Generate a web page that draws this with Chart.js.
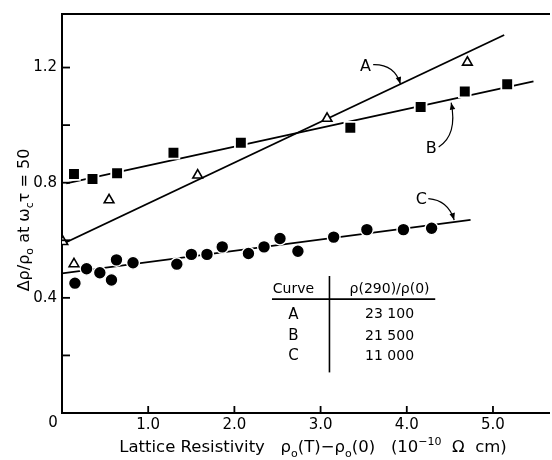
<!DOCTYPE html>
<html><head><meta charset="utf-8">
<script src="https://cdn.jsdelivr.net/npm/chart.js@4.4.1/dist/chart.umd.min.js"></script>
<style>html,body{margin:0;padding:0;background:#fff}#wrap{width:552px;height:460px}</style>
</head><body><div id="wrap"><canvas id="c"></canvas></div>
<script>
// ---- data ----
const curveNames = ['A', 'B', 'C'];
const ratioValues = ['23 100', '21 500', '11 000'];
const xTickValues = [0, 1, 2, 3, 4, 5];
const xTickLabels = ['0', '1.0', '2.0', '3.0', '4.0', '5.0'];
const yTickValues = [0.2, 0.4, 0.6, 0.8, 1.0, 1.2];
const yTickLabels = ['', '0.4', '', '0.8', '', '1.2'];

const curveAx = [0.01, 0.139, 0.546, 1.574, 3.075, 4.703];
const curveAy = [0.595, 0.518, 0.740, 0.826, 1.023, 1.218];
const curveBx = [0.139, 0.354, 0.639, 1.293, 2.075, 3.345, 4.161, 4.673, 5.165];
const curveBy = [0.830, 0.813, 0.833, 0.904, 0.939, 0.991, 1.063, 1.117, 1.142];
const curveCx = [0.150, 0.285, 0.439, 0.574, 0.632, 0.824, 1.332, 1.501, 1.682, 1.859, 2.163, 2.344, 2.529, 2.737, 3.152, 3.537, 3.961, 4.288];
const curveCy = [0.451, 0.501, 0.487, 0.462, 0.532, 0.522, 0.517, 0.551, 0.551, 0.577, 0.554, 0.577, 0.606, 0.562, 0.611, 0.637, 0.637, 0.642];
const fitAx = [0, 5.13];
const fitAy = [0.586, 1.313];
const fitBx = [0.05, 5.47];
const fitBy = [0.798, 1.152];
const fitCx = [0, 4.74];
const fitCy = [0.485, 0.671];

const pts = (xs, ys) => xs.map((x, i) => ({x, y: ys[i]}));
const FONT = '"DejaVu Sans", sans-serif';

function drawRich(ctx, segs, size, x, y, rot) {
  const big = size + 'px ' + FONT, small = Math.round(size * 0.68) + 'px ' + FONT;
  let total = 0;
  const w = segs.map(s => { ctx.font = s.s ? small : big; const m = ctx.measureText(s.t).width; total += m; return m; });
  ctx.save();
  ctx.translate(x, y); ctx.rotate(rot);
  ctx.textAlign = 'left'; ctx.textBaseline = 'alphabetic'; ctx.fillStyle = '#000';
  let cx = -total / 2;
  segs.forEach((s, i) => {
    ctx.font = s.s ? small : big;
    const dy = s.s === -1 ? size * 0.28 : s.s === 1 ? -size * 0.42 : 0;
    ctx.fillText(s.t, cx, dy);
    cx += w[i];
  });
  ctx.restore();
}

function arrow(ctx, p0, c, p1) {
  ctx.beginPath(); ctx.moveTo(p0[0], p0[1]); ctx.quadraticCurveTo(c[0], c[1], p1[0], p1[1]); ctx.stroke();
  const ang = Math.atan2(p1[1] - c[1], p1[0] - c[0]);
  const L = 7, H = 2.8;
  ctx.beginPath();
  ctx.moveTo(p1[0], p1[1]);
  ctx.lineTo(p1[0] - L * Math.cos(ang) + H * Math.sin(ang), p1[1] - L * Math.sin(ang) - H * Math.cos(ang));
  ctx.lineTo(p1[0] - L * Math.cos(ang) - H * Math.sin(ang), p1[1] - L * Math.sin(ang) + H * Math.cos(ang));
  ctx.closePath(); ctx.fill();
}

const deco = {
  id: 'deco',
  afterDraw(chart) {
    const ctx = chart.ctx, xs = chart.scales.x, ys = chart.scales.y, a = chart.chartArea;
    const X = v => xs.getPixelForValue(v), Y = v => ys.getPixelForValue(v);
    ctx.save();
    ctx.strokeStyle = '#000'; ctx.fillStyle = '#000';
    // top frame line
    ctx.lineWidth = 2;
    ctx.beginPath(); ctx.moveTo(a.left - 1, a.top); ctx.lineTo(a.right + 1, a.top); ctx.stroke();
    // inward tick marks
    ctx.lineWidth = 1.8;
    xTickValues.forEach(v => { if (v === 0) return; ctx.beginPath(); ctx.moveTo(X(v), a.bottom); ctx.lineTo(X(v), a.bottom - 7); ctx.stroke(); });
    yTickValues.forEach(v => { ctx.beginPath(); ctx.moveTo(a.left, Y(v)); ctx.lineTo(a.left + 8, Y(v)); ctx.stroke(); });
    // '0' label at the corner
    ctx.font = '15px ' + FONT; ctx.textAlign = 'center'; ctx.textBaseline = 'middle';
    ctx.fillText(xTickLabels[0], X(0) - 9, a.bottom + 10);

    // curve labels with arrows
    ctx.font = '16px ' + FONT; ctx.textAlign = 'center'; ctx.textBaseline = 'middle';
    ctx.lineWidth = 1.2;
    const spots = [
      {x: 3.52, y: 1.203, a: [[3.61, 1.210], [3.857, 1.212], [3.926, 1.143]]},
      {x: 4.284, y: 0.917, a: [[4.37, 0.924], [4.59, 0.966], [4.515, 1.078]]},
      {x: 4.169, y: 0.741, a: [[4.25, 0.745], [4.48, 0.740], [4.55, 0.670]]}
    ];
    spots.forEach((s, i) => {
      ctx.fillText(curveNames[i], X(s.x), Y(s.y));
      arrow(ctx, [X(s.a[0][0]), Y(s.a[0][1])], [X(s.a[1][0]), Y(s.a[1][1])], [X(s.a[2][0]), Y(s.a[2][1])]);
    });

    // table
    ctx.lineWidth = 1.6;
    ctx.beginPath(); ctx.moveTo(X(2.436), Y(0.3955)); ctx.lineTo(X(4.33), Y(0.3955)); ctx.stroke();
    ctx.beginPath(); ctx.moveTo(X(3.103), Y(0.476)); ctx.lineTo(X(3.103), Y(0.141)); ctx.stroke();
    ctx.font = '14px ' + FONT; ctx.textAlign = 'center'; ctx.textBaseline = 'middle';
    ctx.fillText('Curve', X(2.685), Y(0.431));
    ctx.fillText('ρ(290)/ρ(0)', X(3.80), Y(0.431));
    const rowY = [0.341, 0.266, 0.197];
    curveNames.forEach((n, i) => {
      ctx.font = '15px ' + FONT; ctx.fillText(n, X(2.685), Y(rowY[i]));
      ctx.font = '14px ' + FONT; ctx.fillText(ratioValues[i], X(3.80), Y(rowY[i]));
    });
    ctx.restore();

    // axis titles
    drawRich(ctx, [{t: 'Lattice Resistivity   ρ'}, {t: 'o', s: -1}, {t: '(T)−ρ'}, {t: 'o', s: -1}, {t: '(0)   (10'}, {t: '−10', s: 1}, {t: '  Ω  cm)'}], 16.5, 313, 452, 0);
    drawRich(ctx, [{t: 'Δρ/ρ'}, {t: 'o', s: -1}, {t: ' at ω'}, {t: 'c', s: -1}, {t: 'τ = 50'}], 16, 29, 220, -Math.PI / 2);
  }
};

const markBase = {showLine: false, order: 1};
new Chart(document.getElementById('c'), {
  type: 'scatter',
  data: {
    datasets: [
      {label: 'A', data: pts(curveAx, curveAy), ...markBase, pointStyle: 'triangle', pointRadius: 5.6, pointBackgroundColor: '#fff', pointBorderColor: '#000', pointBorderWidth: 1.6, clip: 0},
      {label: 'B', data: pts(curveBx, curveBy), ...markBase, pointStyle: 'rect', pointRadius: 8.3, pointBackgroundColor: '#000', pointBorderColor: '#fff', pointBorderWidth: 1.8},
      {label: 'C', data: pts(curveCx, curveCy), ...markBase, pointStyle: 'circle', pointRadius: 6.4, pointBackgroundColor: '#000', pointBorderColor: '#fff', pointBorderWidth: 1.4},
      {label: 'fit A', data: pts(fitAx, fitAy), showLine: true, order: 2, pointRadius: 0, borderColor: '#000', borderWidth: 1.8},
      {label: 'fit B', data: pts(fitBx, fitBy), showLine: true, order: 2, pointRadius: 0, borderColor: '#000', borderWidth: 1.8},
      {label: 'fit C', data: pts(fitCx, fitCy), showLine: true, order: 2, pointRadius: 0, borderColor: '#000', borderWidth: 1.8}
    ]
  },
  options: {
    responsive: true, maintainAspectRatio: false, animation: false, devicePixelRatio: 1,
    layout: {autoPadding: false, padding: {top: 11, right: 1, left: 0, bottom: 0}},
    plugins: {legend: {display: false}, tooltip: {enabled: false}},
    scales: {
      x: {
        type: 'linear', min: 0, max: 5.65,
        grid: {display: false, drawTicks: false},
        border: {display: true, color: '#000', width: 2},
        ticks: {stepSize: 1, autoSkip: false, maxRotation: 0, padding: 3, color: '#000', font: {family: FONT, size: 15},
          callback: v => { const i = xTickValues.findIndex(t => Math.abs(t - v) < 1e-6); return i > 0 ? xTickLabels[i] : ''; }},
        afterFit: s => { s.height = 47; }
      },
      y: {
        type: 'linear', min: 0, max: 1.386,
        grid: {display: false, drawTicks: false},
        border: {display: true, color: '#000', width: 2},
        ticks: {stepSize: 0.2, autoSkip: false, padding: 5, color: '#000', font: {family: FONT, size: 15},
          callback: v => { const i = yTickValues.findIndex(t => Math.abs(t - v) < 1e-6); return i >= 0 ? yTickLabels[i] : ''; }},
        afterFit: s => { s.width = 62; }
      }
    }
  },
  plugins: [deco]
});
</script>
</body></html>
